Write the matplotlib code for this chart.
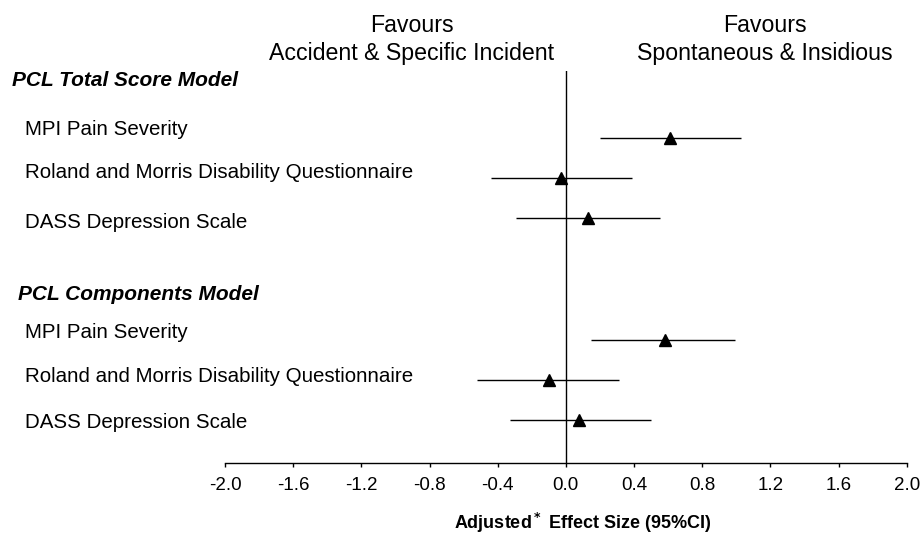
import matplotlib.pyplot as plt
import matplotlib.transforms as mtransforms

plt.rcParams['font.family'] = ['Liberation Sans', 'DejaVu Sans']

# Datos del forest plot (tamaño del efecto ajustado e IC 95%)
etiquetas = ["MPI Pain Severity",
             "Roland and Morris Disability Questionnaire",
             "DASS Depression Scale",
             "MPI Pain Severity",
             "Roland and Morris Disability Questionnaire",
             "DASS Depression Scale"]
efecto = [0.61, -0.03, 0.13, 0.58, -0.10, 0.08]
ic_inf = [0.20, -0.44, -0.29, 0.15, -0.52, -0.33]
ic_sup = [1.03, 0.39, 0.55, 0.99, 0.31, 0.50]
modelos = ["PCL Total Score Model", "PCL Components Model"]
ticks_x = [-2.0, -1.6, -1.2, -0.8, -0.4, 0.0, 0.4, 0.8, 1.2, 1.6, 2.0]

# Posiciones (filas) de cada estimación y de los textos
filas = [0, 1, 2, 5, 6, 7]
filas_texto = [-0.21, 0.85, 2.11, 4.83, 5.91, 7.06]
filas_modelo = [-1.41, 3.87]
x_modelo = [12 / 924, 18 / 924]

fig = plt.figure(figsize=(9.24, 5.36), dpi=100)
ax = fig.add_axes([225 / 924, 73.3 / 536, 681.7 / 924, 392 / 536])

# Intervalos de confianza y puntos
ax.hlines(filas, ic_inf, ic_sup, color='black', linewidth=1.0)
ax.plot(efecto, filas, linestyle='none', marker='^', color='black', markersize=8)
ax.axvline(0, color='black', linewidth=1.0)

ax.set_xlim(-2.0, 2.0)
ax.set_ylim(8.045, -1.658)
ax.set_xticks(ticks_x)
ax.set_xticklabels(["%.1f" % t for t in ticks_x], fontsize=13.5)
ax.tick_params(axis='x', direction='out', length=3, width=1, pad=7.5)
ax.set_yticks([])
for lado in ['left', 'right', 'top']:
    ax.spines[lado].set_visible(False)
ax.spines['bottom'].set_linewidth(1.0)

# Textos de la izquierda (x en figura, y en datos)
trans = mtransforms.blended_transform_factory(fig.transFigure, ax.transData)
for texto, y in zip(etiquetas, filas_texto):
    ax.text(25 / 924, y, texto, transform=trans, ha='left', va='center',
            fontsize=14.8, clip_on=False)
for texto, y, x in zip(modelos, filas_modelo, x_modelo):
    ax.text(x, y, texto, transform=trans, ha='left', va='center',
            fontsize=15, fontweight='bold', fontstyle='italic', clip_on=False)

# Encabezados
fig.text(411.5 / 924, 1 - 25 / 536, "Favours", ha='center', va='center', fontsize=16.7)
fig.text(411.5 / 924, 1 - 53.3 / 536, "Accident & Specific Incident", ha='center', va='center', fontsize=16.7)
fig.text(765 / 924, 1 - 25 / 536, "Favours", ha='center', va='center', fontsize=16.7)
fig.text(765 / 924, 1 - 53.3 / 536, "Spontaneous & Insidious", ha='center', va='center', fontsize=16.7)

fig.text(583 / 924, 1 - 522.7 / 536, r"Adjusted$^{\bf *}$ Effect Size (95%CI)",
         ha='center', va='center', fontsize=13, fontweight='bold')

fig.savefig('out.png', dpi=100)
